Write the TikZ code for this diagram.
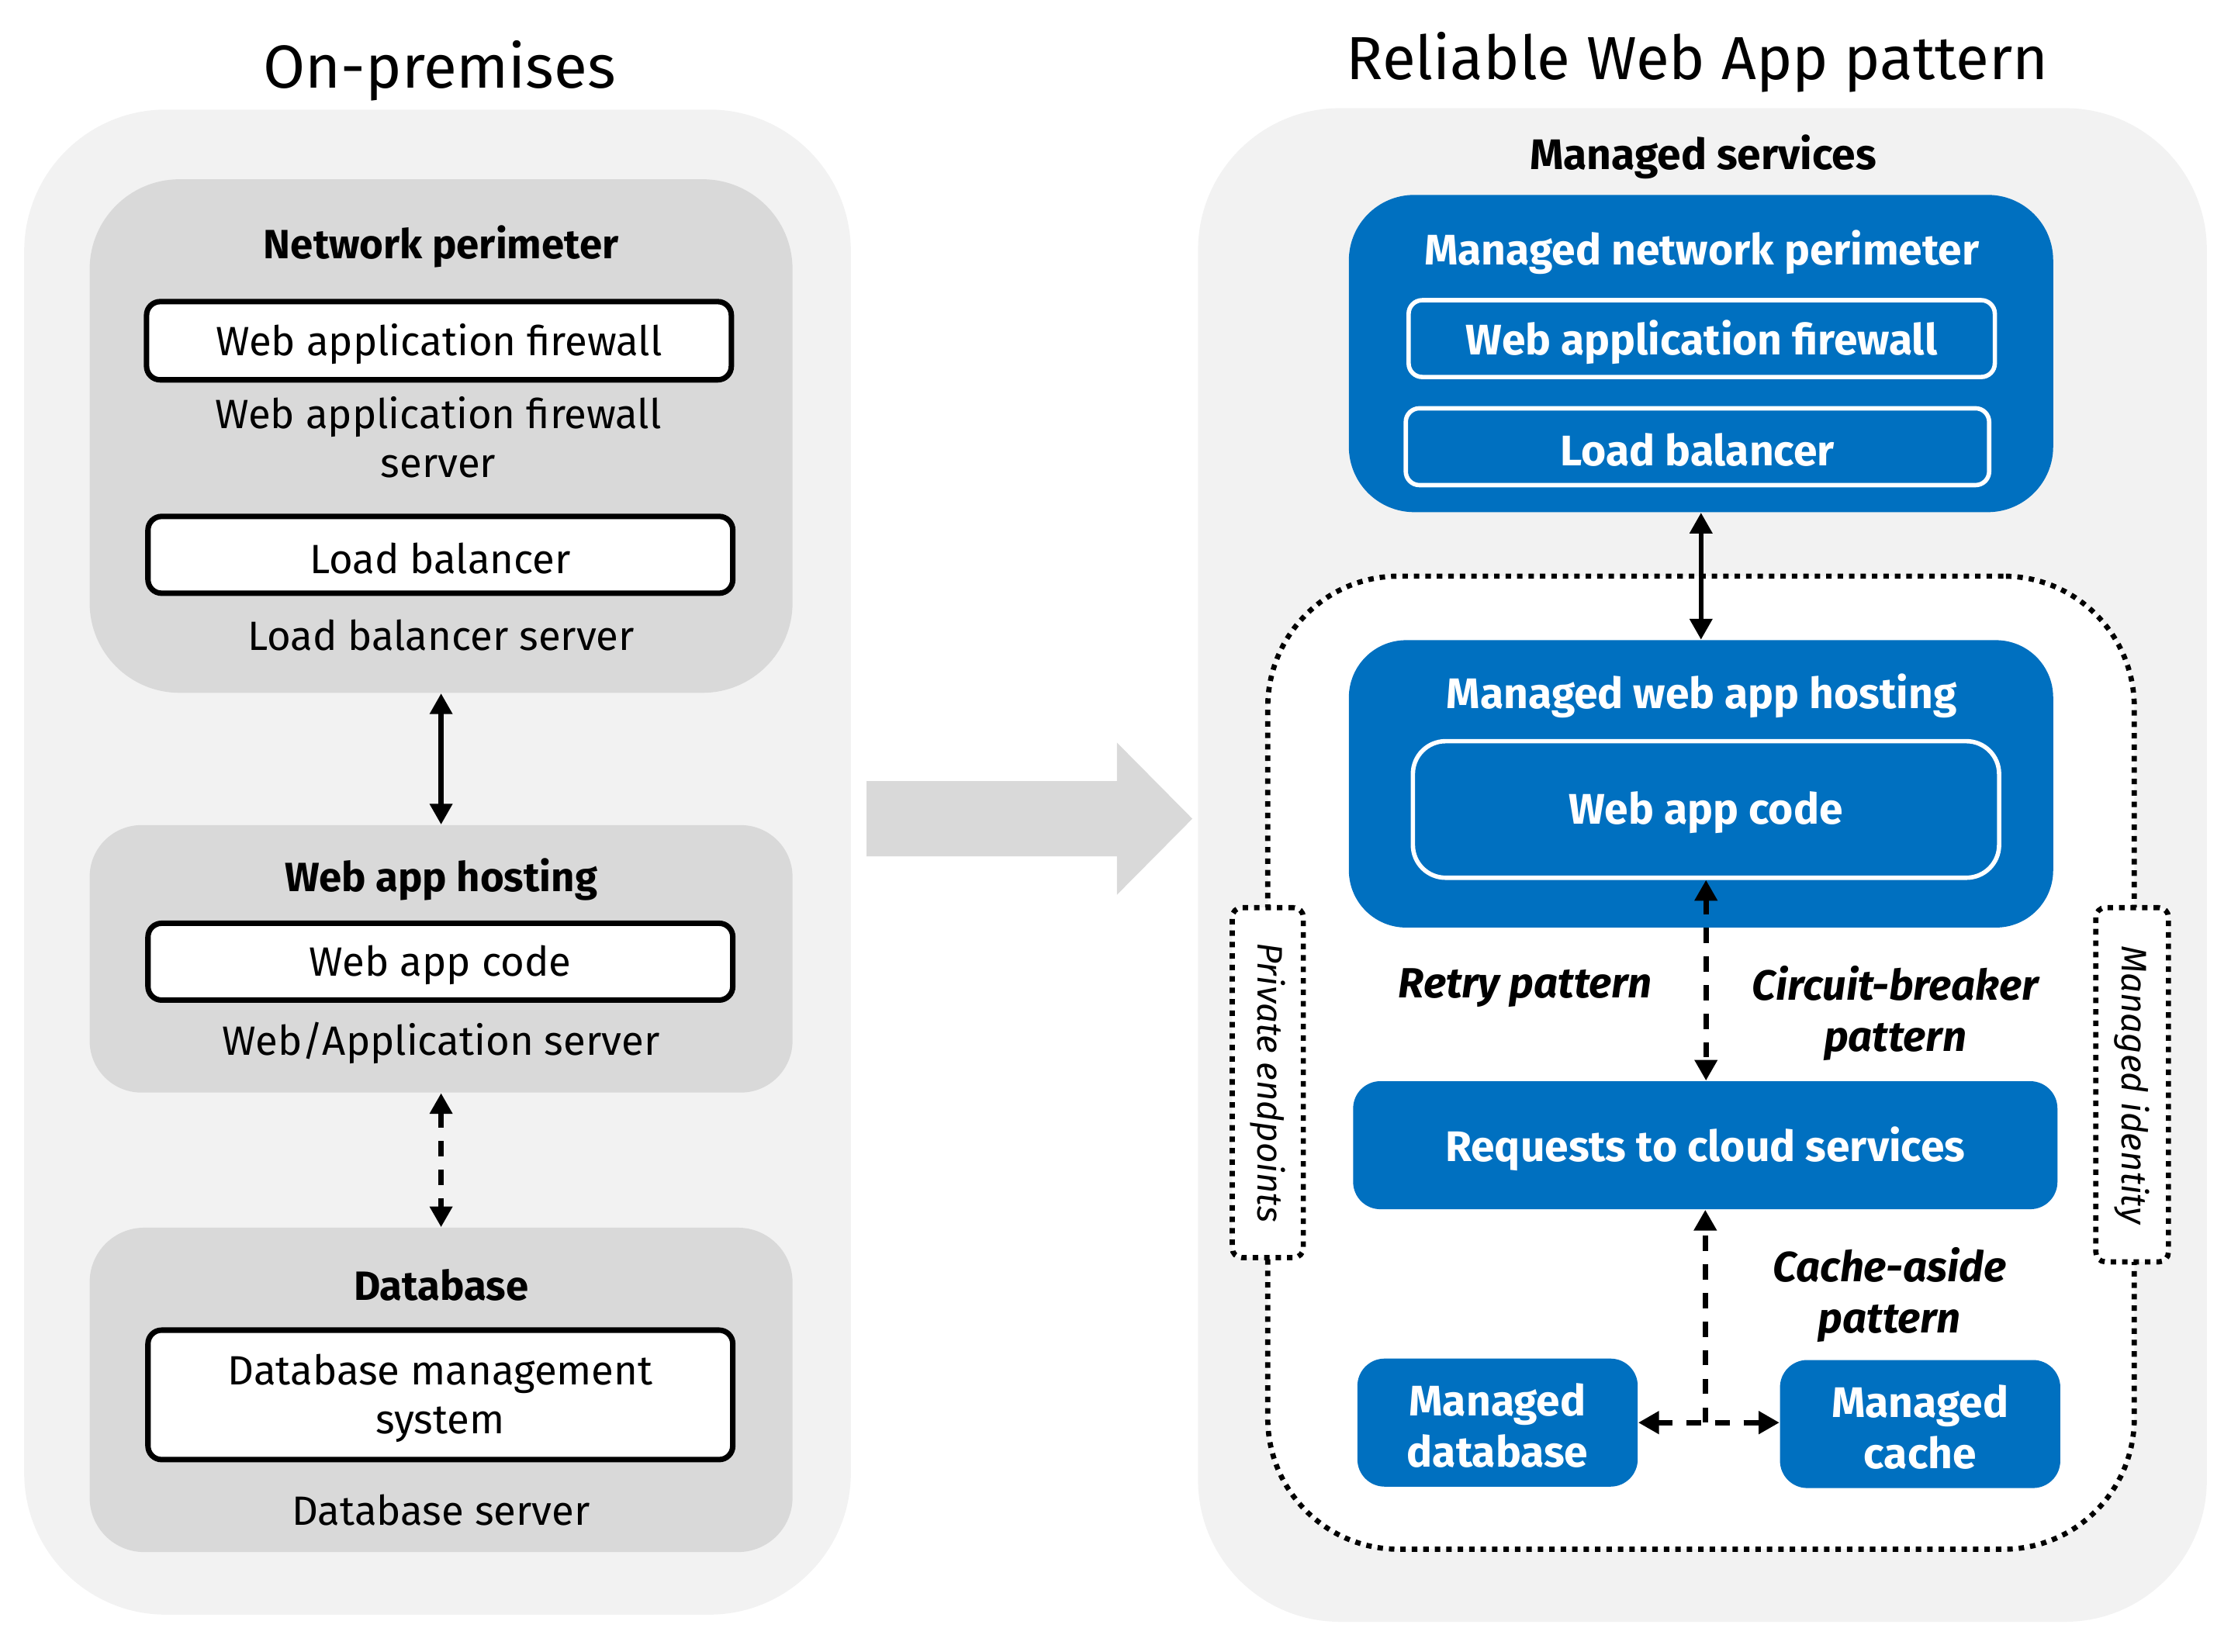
\documentclass[tikz,border=0pt]{standalone}
\usepackage{fontspec}
\setmainfont{Fira Sans}
\usepackage{tikz}
\usetikzlibrary{arrows.meta,positioning,fit,calc}
\usepackage{xcolor}
\definecolor{panelgray}{HTML}{F2F2F2}
\definecolor{tiergray}{HTML}{D9D9D9}
\definecolor{azblue}{HTML}{0070C0}
\newcommand{\bodyfont}{\fontsize{15}{18}\selectfont}
\newcommand{\cloudfont}{\fontsize{15.7}{18.8}\selectfont\bfseries}

\begin{document}
\begin{tikzpicture}[x=0.018342cm, y=-0.018342cm, >={Triangle[length=7.6pt,width=8pt]}]

	\tikzset{
	panel/.style={fill=panelgray, rounded corners=52pt, inner sep=0pt},
	tier/.style={fill=tiergray, rounded corners=#1, inner sep=0pt},
	tier/.default=19pt,
	onbox/.style={draw=black, line width=2pt, fill=white, rounded corners=5pt, inner sep=0pt},
	lbl/.style={font=\bodyfont, align=center, yshift=-1.2pt},
	bold/.style={font=\bodyfont\bfseries, align=center, yshift=-1.2pt},
	heading/.style={font=\fontsize{22.3}{27}\selectfont, yshift=-1.5pt},
	cloudbox/.style={fill=azblue, rounded corners=#1, inner sep=0pt},
	cloudbox/.default=10pt,
	outline/.style={draw=white, line width=1.6pt, rounded corners=#1, inner sep=0pt},
	outline/.default=5pt,
	cloudtext/.style={text=white, font=\cloudfont, align=center, yshift=-1.2pt},
	note/.style={font=\fontsize{15.5}{18.8}\selectfont\bfseries\itshape, align=center, yshift=-1.2pt},
	region/.style={draw, fill=white, line width=1.9pt, dash pattern=on 2pt off 2.2pt, rounded corners=48pt, inner sep=0pt},
	tag/.style={draw, fill=white, line width=1.9pt, dash pattern=on 2pt off 2.2pt, rounded corners=3.5pt, inner sep=0pt},
	tagtext/.style={rotate=-90, font=\fontsize{13}{16}\selectfont\itshape},
	dbl/.style={<->, line width=1.8pt},
	dashdbl/.style={<->, line width=1.9pt, dash pattern=on 5.5pt off 5pt},
	dasharrow/.style={->, line width=1.9pt, dash pattern=on 5.5pt off 5pt}
	}

	\useasboundingbox (0,0) rectangle (1568,1161);

	% Panels
	\node[panel, fit={(17,77) (598,1135)}] (onprem) {};
	\node[panel, fit={(842,76) (1551,1140)}] (cloud) {};
	\node[heading] (onprem_title) at (309,47) {On-premises};
	\node[heading] (cloud_title) at (1193,41) {Reliable Web App pattern};

	% On-premises
	\node[tier=33pt, fit={(63,126) (557,487)}] (netper) {};
	\node[tier, fit={(63,580) (557,768)}] (webhost) {};
	\node[tier=20pt, fit={(63,863) (557,1091)}] (database) {};

	\node[bold] (netper_title) at (310,171) {Network perimeter};
	\node[onbox, fit={(103,212) (514,267)}, label={[lbl]center:Web application firewall}] (waf) {};
	\node[lbl] (waf_server) at (308,305) {Web application firewall\\server};
	\node[onbox, fit={(104,363) (515,417)}, label={[lbl]center:Load balancer}] (lb) {};
	\node[lbl] (lb_server) at (310,444) {Load balancer server};

	\node[bold] (webhost_title) at (310,616) {Web app hosting};
	\node[onbox, fit={(104,649) (515,703)}, label={[lbl]center:Web app code}] (code) {};
	\node[lbl] (code_server) at (310,731) {Web/Application server};

	\node[bold] (database_title) at (310,901) {Database};
	\node[onbox, fit={(104,935) (515,1026)}, label={[lbl]center:Database management\\system}] (dbms) {};
	\node[lbl] (dbms_server) at (310,1059) {Database server};

	% Migration arrow
	\fill[tiergray] (609,549) -- (785,549) -- (785,522) -- (838,575.5) -- (785,629) -- (785,602) -- (609,602) -- cycle;

	% Managed services
	\node[cloudtext, text=black] (cloud_subtitle) at (1197,108) {Managed services};
	\node[region, fit={(891,405) (1500,1089)}] (private_net) {};

	\node[cloudbox=24pt, fit={(948,137) (1443,360)}] (mnet) {};
	\node[cloudtext] (mnet_title) at (1196,175) {Managed network perimeter};
	\node[outline, fit={(990,211) (1402,265)}, label={[cloudtext]center:Web application firewall}] (mwaf) {};
	\node[outline, fit={(988,287) (1398,341)}, label={[cloudtext]center:Load balancer}] (mlb) {};

	\node[cloudbox=21pt, fit={(948,450) (1443,652)}] (mhost) {};
	\node[cloudtext] (mhost_title) at (1196,487) {Managed web app hosting};
	\node[outline=12pt, fit={(993,521) (1405,617)}, label={[cloudtext]center:Web app code}] (mcode) {};

	\node[cloudbox, fit={(951,760) (1446,850)}, label={[cloudtext]center:Requests to cloud services}] (mreq) {};
	\node[cloudbox, fit={(954,955) (1151,1045)}, label={[cloudtext]center:Managed\\database}] (mdb) {};
	\node[cloudbox, fit={(1251,956) (1448,1046)}, label={[cloudtext]center:Managed\\cache}] (mcache) {};

	\node[note] (retry) at (1072,692) {Retry pattern};
	\node[note] (breaker) at (1332,710) {Circuit-breaker\\pattern};
	\node[note] (cacheaside) at (1328,908) {Cache-aside\\pattern};

	\node[tag, fit={(866,638) (916,884)}] (privep) {};
	\node[tagtext] (privep_text) at (privep) {Private endpoints};
	\node[tag, fit={(1473,638) (1524,887)}] (midentity) {};
	\node[tagtext] (midentity_text) at (midentity) {Managed identity};

	% Lines
	\draw[dbl] (netper.south) -- (webhost.north);
	\draw[dashdbl] (webhost.south) -- (database.north);
	\draw[dbl] (mnet.south) -- (mhost.north);
	\draw[dashdbl] (mcode.south) -- (mcode.south |- mreq.north);
	\coordinate (junction) at (mreq.south |- mdb.east);
	\draw[dasharrow] (junction) -- (mreq.south);
	\draw[dashdbl] (mdb.east) -- (mdb.east -| mcache.west);

\end{tikzpicture}
\end{document}
